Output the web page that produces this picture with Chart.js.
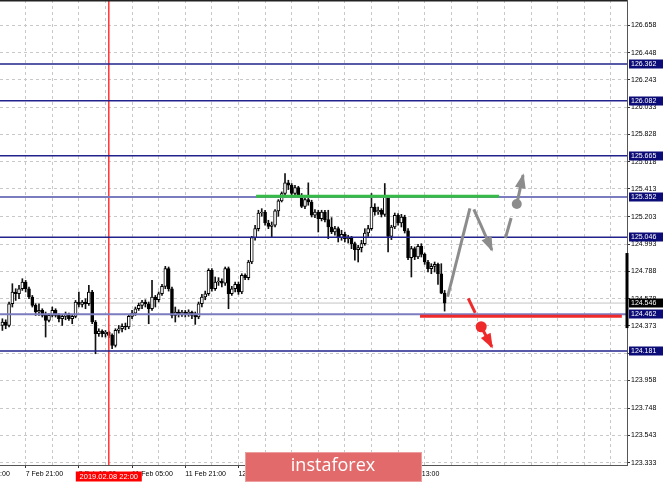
<!DOCTYPE html>
<html>
<head>
<meta charset="utf-8">
<script src="https://cdn.jsdelivr.net/npm/chart.js@4.4.1/dist/chart.umd.min.js"></script>
<style>
  html, body { margin: 0; padding: 0; background: #fff; }
</style>
</head>
<body>
<canvas id="chartCanvas" width="665" height="483"></canvas>
<script>
// H1 candles, 7 Feb 2019 .. 14 Feb 2019 (index = candle number)
const opens = [124.376,124.402,124.376,124.541,124.630,124.617,124.655,124.706,124.655,124.592,
  124.528,124.478,124.490,124.452,124.414,124.452,124.490,124.452,124.427,124.445,
  124.460,124.427,124.445,124.554,124.536,124.554,124.541,124.630,124.402,124.313,
  124.333,124.313,124.326,124.300,124.224,124.338,124.351,124.369,124.364,124.445,
  124.470,124.503,124.528,124.554,124.541,124.503,124.592,124.571,124.617,124.673,
  124.807,124.655,124.452,124.478,124.460,124.478,124.465,124.478,124.452,124.440,
  124.541,124.592,124.617,124.794,124.655,124.706,124.713,124.698,124.807,124.617,
  124.655,124.688,124.630,124.756,124.739,124.858,125.043,125.111,125.230,125.238,
  125.154,125.129,125.137,125.246,125.322,125.378,125.459,125.441,125.378,125.423,
  125.365,125.281,125.332,125.314,125.213,125.238,125.187,125.238,125.180,125.124,
  125.086,125.111,125.043,125.068,125.035,125.048,124.997,124.952,124.967,124.997,
  125.078,125.111,125.276,125.238,125.251,125.220,125.352,125.053,125.124,125.213,
  125.154,125.200,125.094,124.891,124.959,124.896,124.977,124.916,124.858,124.807,
  124.825,124.840,124.769,124.622];
const highs = [124.427,124.419,124.554,124.693,124.655,124.680,124.731,124.718,124.668,124.604,
  124.541,124.541,124.503,124.478,124.465,124.516,124.503,124.465,124.460,124.478,
  124.470,124.460,124.566,124.630,124.566,124.579,124.680,124.642,124.414,124.351,
  124.343,124.338,124.333,124.313,124.351,124.376,124.389,124.394,124.460,124.490,
  124.516,124.546,124.566,124.571,124.554,124.718,124.604,124.630,124.688,124.825,
  124.820,124.668,124.516,124.495,124.490,124.490,124.495,124.485,124.478,124.554,
  124.612,124.637,124.807,124.807,124.744,124.739,124.731,124.820,124.820,124.673,
  124.706,124.706,124.769,124.769,124.871,125.053,125.137,125.251,125.263,125.251,
  125.175,125.162,125.256,125.332,125.390,125.530,125.479,125.454,125.441,125.433,
  125.378,125.352,125.459,125.327,125.256,125.251,125.251,125.251,125.251,125.195,
  125.129,125.124,125.099,125.086,125.061,125.053,125.010,124.985,125.023,125.111,
  125.137,125.378,125.301,125.276,125.263,125.454,125.365,125.137,125.230,125.225,
  125.220,125.213,125.111,124.977,124.972,124.992,124.997,124.926,124.871,124.845,
  124.858,124.850,124.845,124.642];
const lows = [124.338,124.351,124.364,124.516,124.566,124.579,124.642,124.630,124.579,124.516,
  124.452,124.452,124.440,124.288,124.402,124.440,124.440,124.402,124.376,124.419,
  124.414,124.389,124.434,124.516,124.516,124.503,124.528,124.389,124.161,124.293,
  124.288,124.288,124.283,124.199,124.212,124.318,124.326,124.343,124.351,124.427,
  124.452,124.490,124.503,124.516,124.389,124.490,124.516,124.554,124.604,124.655,
  124.637,124.434,124.402,124.440,124.445,124.440,124.445,124.427,124.384,124.427,
  124.516,124.571,124.604,124.637,124.642,124.680,124.668,124.680,124.503,124.604,
  124.630,124.612,124.617,124.723,124.723,124.845,125.023,125.094,125.205,125.137,
  125.111,125.048,125.124,125.205,125.314,125.365,125.408,125.357,125.365,125.352,
  125.271,125.263,125.289,125.200,125.195,125.086,125.170,125.162,125.035,125.073,
  125.061,125.010,125.023,125.010,125.002,124.959,124.871,124.858,124.934,124.985,
  125.053,125.099,125.213,125.220,125.200,125.205,124.934,125.028,125.111,125.137,
  125.124,125.078,124.876,124.744,124.876,124.883,124.896,124.840,124.782,124.769,
  124.782,124.688,124.617,124.485];
const closes = [124.402,124.376,124.541,124.630,124.617,124.655,124.706,124.655,124.592,124.528,
  124.478,124.490,124.452,124.414,124.452,124.490,124.452,124.427,124.445,124.460,
  124.427,124.445,124.554,124.536,124.554,124.541,124.630,124.402,124.313,124.333,
  124.313,124.326,124.300,124.224,124.338,124.351,124.369,124.364,124.445,124.470,
  124.503,124.528,124.554,124.541,124.503,124.592,124.571,124.617,124.673,124.807,
  124.655,124.452,124.478,124.460,124.478,124.465,124.478,124.452,124.440,124.541,
  124.592,124.617,124.794,124.655,124.706,124.713,124.698,124.807,124.617,124.655,
  124.688,124.630,124.756,124.739,124.858,125.043,125.111,125.230,125.238,125.154,
  125.129,125.137,125.246,125.322,125.378,125.459,125.441,125.378,125.423,125.365,
  125.281,125.332,125.314,125.213,125.238,125.187,125.238,125.180,125.124,125.086,
  125.111,125.043,125.068,125.035,125.048,124.997,124.952,124.967,124.997,125.078,
  125.111,125.276,125.238,125.251,125.220,125.352,125.053,125.124,125.213,125.154,
  125.200,125.094,124.891,124.959,124.896,124.977,124.916,124.858,124.807,124.825,
  124.840,124.769,124.622,124.546];

// time axis labels (candle index -> text)
const timeTicks = [-9, 7, 23, 39, 55, 71, 87, 103, 119];
const timeLabels = ['7 Feb 05:00', '7 Feb 21:00', '8 Feb 13:00', '11 Feb 05:00', '11 Feb 21:00',
  '12 Feb 13:00', '13 Feb 05:00', '13 Feb 21:00', '14 Feb 13:00'];

const priceTicks = [126.658, 126.448, 126.243, 126.033, 125.828, 125.618, 125.413, 125.203, 124.993,
  124.788, 124.578, 124.373, 124.163, 123.958, 123.748, 123.543, 123.333];

const levels = [126.362, 126.082, 125.665, 125.352, 125.046, 124.462, 124.181];
const bidPrice = 124.546;
const dayRange = [124.356, 124.926];
const markerIndex = 32;
const markerLabel = '2019.02.08 22:00';

// drawn objects (candle index, price)
const greenLine = [{x: 76.3, y: 125.357}, {x: 149.4, y: 125.357}];
const redLine = [{x: 125.6, y: 124.446}, {x: 186.3, y: 124.446}];
const grayUp = [{x: 133.9, y: 124.594}, {x: 140.6, y: 125.266}];
const grayDown = [{x: 141.8, y: 125.258}, {x: 147.2, y: 124.949}];
const grayDash = [{x: 151.3, y: 125.040}, {x: 153.0, y: 125.192}];
const grayDot = [{x: 154.7, y: 125.298}];
const grayBreak = [{x: 154.7, y: 125.298}, {x: 156.6, y: 125.518}];
const redDash = [{x: 140.1, y: 124.582}, {x: 142.2, y: 124.472}];
const redDot = [{x: 144.0, y: 124.366}];
const redBreak = [{x: 144.0, y: 124.366}, {x: 147.2, y: 124.214}];

const navy = '#22228c';
const levelColors = levels.map(v => (v === 125.352 || v === 124.462) ? '#7b7bc0' : navy);
const levelWidths = levels.map(v => (v === 125.352 || v === 124.462) ? 2 : 1.5);

function labelAt(v) {
    const k = timeTicks.indexOf(v);
    return k >= 0 ? timeLabels[k] : '';
}

const datasets = [];
levels.forEach((v, k) => {
    datasets.push({ type: 'line', data: [{x: -5, y: v}, {x: 200, y: v}], borderColor: levelColors[k],
        borderWidth: levelWidths[k], pointRadius: 0, order: 1 });
});
datasets.push({ type: 'line', data: [{x: -5, y: bidPrice}, {x: 200, y: bidPrice}], borderColor: '#c4c4c4',
    borderWidth: 1, pointRadius: 0, order: 4 });
datasets.push({ type: 'line', data: [{x: markerIndex, y: 123.0}, {x: markerIndex, y: 127.0}], borderColor: '#ff3434',
    borderWidth: 1.5, pointRadius: 0, order: 1 });
datasets.push({ type: 'bar', data: highs.map((h, i) => ({x: i, y: [lows[i], h]})), backgroundColor: '#111',
    barPercentage: 1, categoryPercentage: 1, maxBarThickness: 1, grouped: false, order: 3 });
datasets.push({ type: 'bar', data: opens.map((o, i) => ({x: i, y: [o, closes[i]]})),
    backgroundColor: opens.map((o, i) => closes[i] > o ? '#fff' : '#000'), borderColor: '#000', borderWidth: 1,
    borderSkipped: false, barPercentage: 1, categoryPercentage: 1, maxBarThickness: 3, grouped: false, order: 2 });
datasets.push({ type: 'line', data: greenLine, borderColor: '#36bb46', borderWidth: 3, pointRadius: 0, order: 0 });
datasets.push({ type: 'line', data: redLine, borderColor: '#ee2a2a', borderWidth: 3, pointRadius: 0, order: 0 });
[grayUp, grayDown, grayDash, grayBreak].forEach((d, k) => {
    datasets.push({ type: 'line', data: d, borderColor: '#8c8c8c', borderWidth: 3, pointRadius: 0, order: 0,
        arrowHead: k === 1 || k === 3 });
});
[redDash, redBreak].forEach((d, k) => {
    datasets.push({ type: 'line', data: d, borderColor: '#ee2a2a', borderWidth: 3, pointRadius: 0, order: 0,
        arrowHead: k === 1 });
});
datasets.push({ type: 'line', data: grayDot, showLine: false, pointRadius: 5, pointBorderWidth: 0,
    pointBackgroundColor: '#8c8c8c', order: 0 });
datasets.push({ type: 'line', data: redDot, showLine: false, pointRadius: 5.5, pointBorderWidth: 0,
    pointBackgroundColor: '#ee2a2a', order: 0 });

const overlay = {
    id: 'overlay',
    afterDraw(chart) {
        const { ctx, chartArea: a, scales: { x, y } } = chart;
        ctx.save();
        // top frame
        ctx.fillStyle = '#222';
        ctx.fillRect(0, a.top, a.right, 1.5);

        // arrow heads
        chart.data.datasets.forEach((ds, i) => {
            if (!ds.arrowHead) return;
            const pts = chart.getDatasetMeta(i).data;
            const p1 = pts[pts.length - 2], p2 = pts[pts.length - 1];
            const ang = Math.atan2(p2.y - p1.y, p2.x - p1.x);
            const L = 13, W = 5.5;
            const bx = p2.x - L * Math.cos(ang), by = p2.y - L * Math.sin(ang);
            ctx.fillStyle = ds.borderColor;
            ctx.beginPath();
            ctx.moveTo(p2.x + 2 * Math.cos(ang), p2.y + 2 * Math.sin(ang));
            ctx.lineTo(bx + W * Math.sin(ang), by - W * Math.cos(ang));
            ctx.lineTo(bx - W * Math.sin(ang), by + W * Math.cos(ang));
            ctx.closePath();
            ctx.fill();
        });

        // black range bar on the price axis
        const r0 = y.getPixelForValue(dayRange[1]), r1 = y.getPixelForValue(dayRange[0]);
        ctx.fillStyle = '#000';
        ctx.fillRect(a.right - 1.5, r0, 3, r1 - r0);

        // price boxes
        ctx.font = '7px "Liberation Sans", Arial, sans-serif';
        ctx.textBaseline = 'middle';
        ctx.textAlign = 'left';
        const box = (v, color) => {
            const py = Math.round(y.getPixelForValue(v));
            ctx.fillStyle = color;
            ctx.fillRect(a.right + 2, py - 4.5, 34, 9);
            ctx.fillStyle = '#fff';
            ctx.fillText(v.toFixed(3), a.right + 4, py + 0.5);
        };
        levels.forEach(v => box(v, '#0c0c78'));
        box(bidPrice, '#000');

        // time marker label
        const mx = x.getPixelForValue(markerIndex);
        ctx.fillStyle = '#ff0000';
        ctx.fillRect(mx - 33, 471.5, 66, 10);
        ctx.fillStyle = '#fff';
        ctx.font = '7.5px "Liberation Sans", Arial, sans-serif';
        ctx.textAlign = 'center';
        ctx.fillText(markerLabel, mx, 477);

        // watermark
        ctx.fillStyle = '#e36a6a';
        ctx.fillRect(245, 452, 177, 30);
        ctx.strokeStyle = 'rgba(255,255,255,0.35)';
        ctx.lineWidth = 1;
        ctx.strokeRect(245.5, 452.5, 176, 29);
        ctx.fillStyle = '#fff';
        ctx.font = '18px "Open Sans", sans-serif';
        ctx.textAlign = 'center';
        ctx.fillText('instaforex', 333, 466);
        ctx.restore();
    }
};

Chart.defaults.font.family = '"Liberation Sans", Arial, sans-serif';

new Chart(document.getElementById('chartCanvas').getContext('2d'), {
    type: 'bar',
    data: { datasets: datasets },
    options: {
        responsive: false,
        animation: false,
        events: [],
        layout: { padding: 0, autoPadding: false },
        plugins: { legend: { display: false }, tooltip: { enabled: false } },
        scales: {
            x: {
                type: 'linear', min: -0.72, max: 187.85, offset: false,
                afterBuildTicks: s => {
                    const t = [];
                    for (let v = -9; v <= 187; v += 8) t.push({ value: v });
                    s.ticks = t;
                },
                afterFit: s => { s.height = 18; s.paddingLeft = 0; s.paddingRight = 0; },
                ticks: { autoSkip: false, maxRotation: 0, align: 'start', padding: 2, color: '#000',
                    font: { size: 7 }, callback: v => labelAt(v) },
                grid: { offset: false, color: '#c8c8c8', lineWidth: 1, tickLength: 3, tickWidth: 1,
                    tickColor: c => (c.tick && labelAt(c.tick.value)) ? '#333' : 'rgba(0,0,0,0)' },
                border: { display: true, color: '#555', width: 1, dash: [3, 3] }
            },
            y: {
                type: 'linear', position: 'right', min: 123.316, max: 126.848,
                afterBuildTicks: s => { s.ticks = priceTicks.map(v => ({ value: v })); },
                afterFit: s => { s.width = 38; s.paddingTop = 0; s.paddingBottom = 0; },
                ticks: { color: '#000', font: { size: 7 }, padding: 1, crossAlign: 'near',
                    callback: v => v.toFixed(3) },
                grid: { color: '#c8c8c8', lineWidth: 1, tickLength: 3, tickColor: '#333', tickWidth: 1 },
                border: { display: true, color: '#555', width: 1, dash: [3, 3] }
            }
        }
    },
    plugins: [overlay]
});
</script>
</body>
</html>
